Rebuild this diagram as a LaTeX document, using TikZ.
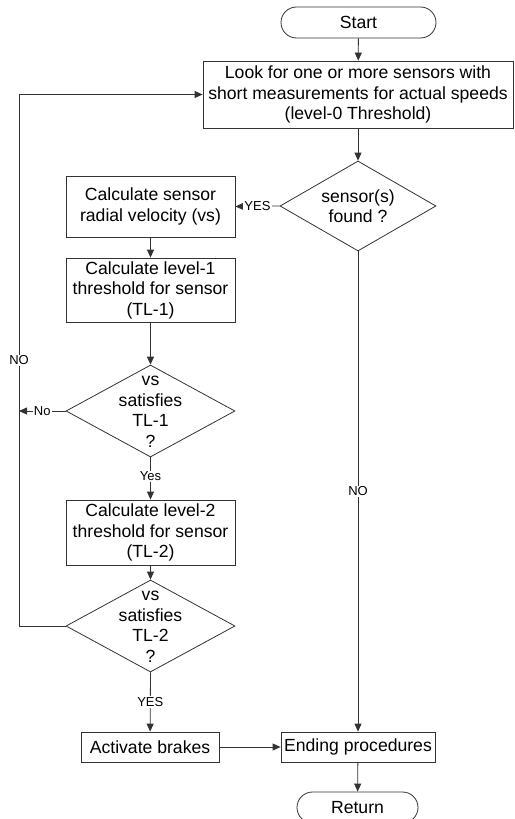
\documentclass[tikz,border=0pt]{standalone}
\usepackage{fontspec}
\setmainfont{Liberation Sans}
\usetikzlibrary{shapes.geometric,shapes.misc,arrows.meta}
\definecolor{ln}{HTML}{333333}
\tikzset{
  every node/.style={font=\fontsize{17.6}{20.5}\selectfont, text=black},
  box/.style={draw=ln, line width=0.8pt, align=center, inner sep=0pt},
  term/.style={draw=ln, line width=0.8pt, rounded rectangle, inner sep=0pt},
  dia/.style={draw=ln, line width=0.8pt, diamond, inner sep=0pt},
  arr/.style={draw=ln, line width=0.8pt, -{Triangle[length=8pt,width=7pt]}},
  ln/.style={draw=ln, line width=0.8pt},
  lab/.style={fill=white, inner sep=1pt, font=\fontsize{13}{15}\selectfont}
}
\begin{document}
\begin{tikzpicture}[x=1pt,y=-1pt]
\useasboundingbox (0,0) rectangle (514,819);
% nodes
\node[term, minimum width=155pt, minimum height=31pt] (start) at (358.5,22.5) {Start};
\node[box, minimum width=310pt, minimum height=67pt] (look) at (358,94.5) {Look for one or more sensors with\\short measurements for actual speeds\\(level-0 Threshold)};
\node[dia, minimum width=156pt, minimum height=90pt] (d1) at (358,206) {};
\node[align=center] at (d1) {sensor(s)\\found ?};
\node[box, minimum width=169pt, minimum height=61pt] (calc) at (150.5,206.5) {Calculate sensor\\radial velocity (vs)};
\node[box, minimum width=169pt, minimum height=64pt] (tl1) at (150.5,290) {Calculate level-1\\threshold for sensor\\(TL-1)};
\node[dia, minimum width=169pt, minimum height=92pt] (d2) at (150.5,411) {};
\node[align=center] at ([yshift=-1pt]d2.center) {vs\\satisfies\\TL-1\\?};
\node[box, minimum width=169pt, minimum height=65pt] (tl2) at (150.5,532.5) {Calculate level-2\\threshold for sensor\\(TL-2)};
\node[dia, minimum width=169pt, minimum height=92pt] (d3) at (150.5,626) {};
\node[align=center] at ([yshift=-1pt]d3.center) {vs\\satisfies\\TL-2\\?};
\node[box, minimum width=138pt, minimum height=30pt] (brk) at (150,747) {Activate brakes};
\node[box, minimum width=154pt, minimum height=30pt] (end) at (358,747) {Ending procedures};
\node[term, minimum width=121pt, minimum height=31pt] (ret) at (357.5,807.5) {Return};
\coordinate (lx2) at (19,411);
\coordinate (lb) at (19,626);
\coordinate (lt) at (19,94.5);
% connectors
\draw[arr] (start) -- (look);
\draw[arr] (look) -- (d1);
\draw[arr] (d1.west) -- node[lab]{YES} (calc.east);
\draw[arr] (calc) -- (tl1);
\draw[arr, line width=1.6pt] (tl1) -- (d2);
\draw[arr] (d2.west) -- node[lab]{No} (lx2);
\draw[arr] (d2.south) -- node[lab, pos=0.45]{Yes} (tl2);
\draw[arr] (tl2) -- (d3);
\draw[arr] (d3.west) -- (lb) -- node[lab, pos=0.5]{NO} (lt) -- (look.west);
\draw[arr] (d3.south) -- node[lab, pos=0.5]{YES} (brk);
\draw[arr] (brk) -- (end);
\draw[arr] (d1.south) -- node[lab, pos=0.5]{NO} (end.north);
\draw[arr] (end) -- (ret);
\end{tikzpicture}
\end{document}
